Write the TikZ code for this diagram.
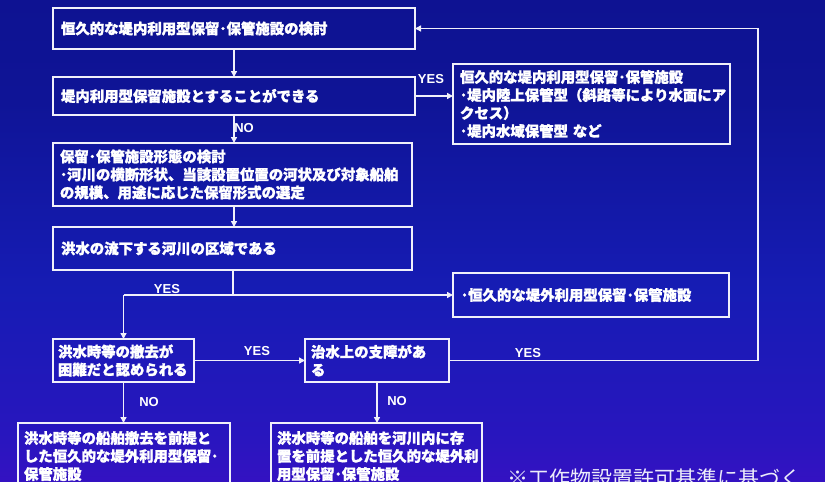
\documentclass[tikz,border=0pt]{standalone}
\usepackage{fontspec}
\setmainfont{Liberation Sans}
\newfontfamily\jp{Noto Sans CJK JP}
\newfontfamily\jpb{Noto Sans CJK JP}[FakeBold=1.6]
\usetikzlibrary{arrows.meta}
\definecolor{cA}{RGB}{104,2,210}
\definecolor{cB}{RGB}{76,10,202}
\definecolor{cC}{RGB}{40,22,190}
\definecolor{cD}{RGB}{22,28,180}
\definecolor{cE}{RGB}{15,20,150}
\definecolor{cF}{RGB}{10,14,135}
\definecolor{edge}{RGB}{240,240,250}
\pgfdeclareverticalshading{bgshade}{100bp}{color(0bp)=(cA); color(15bp)=(cB); color(30bp)=(cC); color(45bp)=(cD); color(65bp)=(cE); color(100bp)=(cF)}
\tikzset{
  box/.style={draw=edge, line width=1.6pt, text=white, anchor=north west, outer sep=0pt,
    inner xsep=8pt, align=left, font=\jpb\bfseries\fontsize{14.4}{18}\selectfont},
  conn/.style={draw=edge, line width=1.4pt},
  arr/.style={conn, -{Triangle[length=6pt,width=6pt]}},
  lbl/.style={text=white, font=\bfseries\fontsize{13}{15}\selectfont, inner sep=0pt}
}
\begin{document}
\begin{tikzpicture}[x=1pt,y=-1pt]
\useasboundingbox (0,0) rectangle (825,482);
\clip (0,0) rectangle (825,482);
\shade[shading=bgshade] (0,0) rectangle (825,482);

\node[box, minimum width=362pt, minimum height=41pt, text width=346pt] (b1) at (53,8) {恒久的な堤内利用型保留･保管施設の検討};
\node[box, minimum width=362pt, minimum height=38pt, text width=346pt] (b2) at (53,77) {堤内利用型保留施設とすることができる};
\node[box, minimum width=277pt, minimum height=80pt, text width=263pt, inner xsep=7pt] (b3) at (453,64) {恒久的な堤内利用型保留･保管施設\\･堤内陸上保管型（斜路等により水面にア\\クセス）\\･堤内水域保管型 など};
\node[box, minimum width=359pt, minimum height=63pt, text width=345pt, inner xsep=7pt] (b4) at (53,143) {保留･保管施設形態の検討\\･河川の横断形状、当該設置位置の河状及び対象船舶\\の規模、用途に応じた保留形式の選定};
\node[box, minimum width=359pt, minimum height=43pt, text width=343pt] (b5) at (53,227) {洪水の流下する河川の区域である};
\node[box, minimum width=276pt, minimum height=44pt, text width=260pt] (b6) at (453,273) {･恒久的な堤外利用型保留･保管施設};
\node[box, minimum width=141pt, minimum height=43pt, text width=131pt, inner xsep=5pt] (b7) at (53,339) {洪水時等の撤去が\\困難だと認められる};
\node[box, minimum width=144pt, minimum height=43pt, text width=132pt, inner xsep=6pt] (b8) at (305,339) {治水上の支障があ\\る};
\node[box, minimum width=212pt, minimum height=66pt, text width=200pt, inner xsep=6pt] (b9) at (18,423) {洪水時等の船舶撤去を前提と\\した恒久的な堤外利用型保留･\\保管施設};
\node[box, minimum width=211pt, minimum height=66pt, text width=199pt, inner xsep=6pt] (b10) at (271,423) {洪水時等の船舶を河川内に存\\置を前提とした恒久的な堤外利\\用型保留･保管施設};

\coordinate (r) at (758,0);
\coordinate (j) at (233,295);

\draw[arr] (b1.south) -- (b1.south |- b2.north);
\draw[arr] (b2.east) -- (b2.east -| b3.west);
\draw[arr] (b2.south) -- (b2.south |- b4.north);
\draw[arr] (b4.south -| b2.south) -- (b2.south |- b5.north);
\draw[conn] (b5.south -| j) -- (j);
\draw[arr] (b7.north |- j) -- (j |- b6.west) -- (b6.west);
\draw[arr] (b7.north |- j) -- (b7.north);
\draw[arr] (b7.east) -- (b8.west);
\draw[arr] (b8.east) -- (b8.east -| r) -- (r |- b1.east) -- (b1.east);
\draw[arr] (b7.south) -- (b7.south |- b9.north);
\draw[arr] (b8.south) -- (b8.south |- b10.north);

\node[lbl] (y1) at (431,79) {YES};
\node[lbl] (n1) at (244,128) {NO};
\node[lbl] (y2) at (167,289) {YES};
\node[lbl] (y3) at (257,351) {YES};
\node[lbl] (y4) at (528,353) {YES};
\node[lbl] (n2) at (149,402) {NO};
\node[lbl] (n3) at (397,401) {NO};

\node[text={rgb,255:red,236;green,236;blue,250}, anchor=base west, inner sep=0pt, font=\jp\fontsize{21}{24}\selectfont] (note) at (507,486) {※工作物設置許可基準に基づく};
\end{tikzpicture}
\end{document}
